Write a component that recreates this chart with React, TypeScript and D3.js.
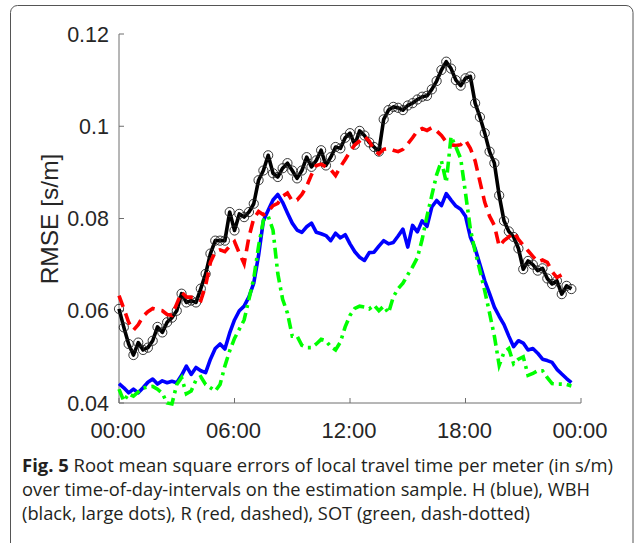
import React from "react";
import * as d3 from "d3";

// 15-minute time-of-day intervals (index -> hour = i * 0.25)
const xTickLabels = ["00:00", "06:00", "12:00", "18:00", "00:00"];
const xTickHours = [0, 6, 12, 18, 24];
const yTicks = [0.04, 0.06, 0.08, 0.1, 0.12];
const yTickLabels = ["0.04", "0.06", "0.08", "0.1", "0.12"];

// H (blue)
const seriesH = [
  0.0442, 0.0433, 0.0422, 0.0430, 0.0422, 0.0433, 0.0445, 0.0452, 0.0441, 0.0448,
  0.0444, 0.0447, 0.0444, 0.0460, 0.0480, 0.0462, 0.0477, 0.0470, 0.0466, 0.0495,
  0.0518, 0.0528, 0.0517, 0.0552, 0.0580, 0.0600, 0.0610, 0.0630, 0.0660, 0.0720,
  0.0795, 0.0818, 0.0840, 0.0852, 0.0835, 0.0812, 0.0790, 0.0775, 0.0770, 0.0782,
  0.0790, 0.0770, 0.0767, 0.0763, 0.0752, 0.0768, 0.0758, 0.0765, 0.0745, 0.0728,
  0.0716, 0.0709, 0.0726, 0.0727, 0.0740, 0.0752, 0.0745, 0.0748, 0.0762, 0.0777,
  0.0738, 0.0785, 0.0771, 0.0795, 0.0783, 0.0825, 0.0839, 0.0828, 0.0854, 0.0840,
  0.0827, 0.0820, 0.0805, 0.0760, 0.0735, 0.0700, 0.0665, 0.0637, 0.0608, 0.0588,
  0.0570, 0.0545, 0.0522, 0.0535, 0.0530, 0.0515, 0.0518, 0.0508, 0.0495, 0.0492,
  0.0488, 0.0473, 0.0463, 0.0453, 0.0444,
];

// WBH (black, large dots)
const seriesWBH = [
  0.0604, 0.0564, 0.0528, 0.0504, 0.0531, 0.0515, 0.0520, 0.0535, 0.0565, 0.0553,
  0.0575, 0.0585, 0.0600, 0.0637, 0.0618, 0.0622, 0.0618, 0.0648, 0.0680, 0.0724,
  0.0752, 0.0752, 0.0752, 0.0814, 0.0774, 0.0810, 0.0803, 0.0814, 0.0832, 0.0883,
  0.0904, 0.0937, 0.0898, 0.0890, 0.0909, 0.0920, 0.0904, 0.0887, 0.0904, 0.0933,
  0.0912, 0.0926, 0.0948, 0.0915, 0.0933, 0.0955, 0.0952, 0.0975, 0.0985, 0.0960,
  0.0990, 0.0980, 0.0965, 0.0955, 0.0945, 0.1015, 0.1035, 0.1042, 0.1040, 0.1035,
  0.1045, 0.1050, 0.1058, 0.1064, 0.1066, 0.1080, 0.1098, 0.1122, 0.1140, 0.1125,
  0.1100, 0.1088, 0.1104, 0.1108, 0.1050, 0.1020, 0.0985, 0.0945, 0.0920, 0.0850,
  0.0795, 0.0772, 0.0760, 0.0735, 0.0690, 0.0708, 0.0700, 0.0687, 0.0692, 0.0670,
  0.0658, 0.0665, 0.0636, 0.0654, 0.0647,
];

// R (red, dashed)
const seriesR = [
  0.0633, 0.0605, 0.0575, 0.0558, 0.0570, 0.0588, 0.0598, 0.0605, 0.0602, 0.0600,
  0.0592, 0.0590, 0.0615, 0.0640, 0.0630, 0.0629, 0.0628, 0.0622, 0.0655, 0.0705,
  0.0728, 0.0732, 0.0728, 0.0740, 0.0750, 0.0725, 0.0702, 0.0760, 0.0800, 0.0815,
  0.0808, 0.0815, 0.0828, 0.0833, 0.0848, 0.0855, 0.0838, 0.0840, 0.0852, 0.0870,
  0.0895, 0.0915, 0.0918, 0.0912, 0.0906, 0.0893, 0.0912, 0.0928, 0.0945, 0.0960,
  0.0968, 0.0978, 0.0968, 0.0948, 0.0940, 0.0950, 0.0952, 0.0948, 0.0945, 0.0950,
  0.0962, 0.0975, 0.0990, 0.0995, 0.0991, 0.0997, 0.0990, 0.0980, 0.0966, 0.0960,
  0.0958, 0.0960, 0.0970, 0.0952, 0.0925, 0.0880, 0.0835, 0.0805, 0.0785, 0.0740,
  0.0752, 0.0760, 0.0770, 0.0755, 0.0742, 0.0730, 0.0718, 0.0706, 0.0710, 0.0705,
  0.0685, 0.0672, 0.0678, 0.0687,
];

// SOT (green, dash-dotted)
const seriesSOT = [
  0.0430, 0.0404, 0.0420, 0.0415, 0.0424, 0.0432, 0.0435, 0.0436, 0.0430, 0.0421,
  0.0400, 0.0398, 0.0440, 0.0455, 0.0420, 0.0426, 0.0450, 0.0457, 0.0440, 0.0433,
  0.0426, 0.0440, 0.0480, 0.0513, 0.0540, 0.0560, 0.0580, 0.0625, 0.0670, 0.0740,
  0.0796, 0.0805, 0.0775, 0.0680, 0.0625, 0.0595, 0.0545, 0.0545, 0.0525, 0.0520,
  0.0520, 0.0528, 0.0538, 0.0535, 0.0522, 0.0515, 0.0532, 0.0565, 0.0590, 0.0605,
  0.0610, 0.0608, 0.0604, 0.0612, 0.0600, 0.0610, 0.0595, 0.0630, 0.0648, 0.0660,
  0.0678, 0.0695, 0.0715, 0.0755, 0.0805, 0.0850, 0.0895, 0.0925, 0.0878, 0.0978,
  0.0955, 0.0930, 0.0855, 0.0778, 0.0728, 0.0687, 0.0643, 0.0595, 0.0545, 0.0482,
  0.0510, 0.0518, 0.0485, 0.0495, 0.0500, 0.0460, 0.0464, 0.0470, 0.0470, 0.0455,
  0.0442, 0.0441, 0.0441, 0.0440, 0.0437,
];

const captionLine1 = "Root mean square errors of local travel time per meter (in s/m)";
const captionLine2 = "over time-of-day-intervals on the estimation sample. H (blue), WBH";
const captionLine3 = "(black, large dots), R (red, dashed), SOT (green, dash-dotted)";

const W = 635;
const H = 543;
const plot = { left: 119, right: 581, top: 34, bottom: 403 };

export default function App() {
  const x = d3.scaleLinear().domain([0, 24]).range([plot.left, plot.right]);
  const y = d3.scaleLinear().domain([0.04, 0.12]).range([plot.bottom, plot.top]);
  const toPts = (arr: number[]) => arr.map((v, i) => [i * 0.25, v] as [number, number]);
  const line = d3
    .line<[number, number]>()
    .x((d) => x(d[0]))
    .y((d) => y(d[1]));

  const axisColor = "#6e6e6e";
  const textColor = "#262626";
  const font = "'Liberation Sans', Arial, Helvetica, sans-serif";

  return (
    <svg
      width={W}
      height={H}
      style={{ position: "absolute", left: 0, top: 0, background: "#fff" }}
    >
      <rect x={10.5} y={5.5} width={622.5} height={545} rx={7} ry={7} fill="none" stroke="#555" strokeWidth={1} />

      {/* axes */}
      <line x1={plot.left} x2={plot.left} y1={plot.top} y2={plot.bottom} stroke={axisColor} strokeWidth={1} />
      <line x1={plot.left} x2={plot.right} y1={plot.bottom} y2={plot.bottom} stroke={axisColor} strokeWidth={1} />
      {yTicks.map((t, i) => (
        <g key={"yt" + i}>
          <line x1={plot.left} x2={plot.left + 5} y1={y(t)} y2={y(t)} stroke={axisColor} strokeWidth={1} />
          <text
            x={plot.left - 10}
            y={y(t)}
            dy="0.35em"
            textAnchor="end"
            fontFamily={font}
            fontSize={21.5}
            fill={textColor}
          >
            {yTickLabels[i]}
          </text>
        </g>
      ))}
      {xTickHours.map((h, i) => (
        <g key={"xt" + i}>
          <line x1={x(h)} x2={x(h)} y1={plot.bottom} y2={plot.bottom - 5} stroke={axisColor} strokeWidth={1} />
          <text
            x={x(h) - 1}
            y={438}
            textAnchor="middle"
            fontFamily={font}
            fontSize={22}
            fill={textColor}
          >
            {xTickLabels[i]}
          </text>
        </g>
      ))}
      <text
        transform={`translate(57.5, 219) rotate(-90)`}
        textAnchor="middle"
        fontFamily={font}
        fontSize={24.5}
        fill={textColor}
      >
        RMSE [s/m]
      </text>

      {/* series */}
      <path d={line(toPts(seriesH)) || ""} fill="none" stroke="#0000ff" strokeWidth={3.6} strokeLinejoin="round" />
      <path d={line(toPts(seriesWBH)) || ""} fill="none" stroke="#000" strokeWidth={3.6} strokeLinejoin="round" />
      {toPts(seriesWBH).map((d, i) => (
        <circle key={"m" + i} cx={x(d[0])} cy={y(d[1])} r={4.6} fill="none" stroke="#222" strokeWidth={0.9} />
      ))}
      <path
        d={line(toPts(seriesR)) || ""}
        fill="none"
        stroke="#ff0000"
        strokeWidth={3.6}
        strokeDasharray="12,7"
      />
      <path
        d={line(toPts(seriesSOT)) || ""}
        fill="none"
        stroke="#00ff00"
        strokeWidth={3.6}
        strokeDasharray="11,5,3,5"
      />

      {/* caption */}
      <g fontFamily="'Open Sans', 'Noto Sans', sans-serif" fontSize={17.5} fill="#231f20">
        <text x={22} y={472} textLength={591} lengthAdjust="spacingAndGlyphs">
          <tspan fontWeight="bold">Fig. 5</tspan>
          <tspan> {captionLine1}</tspan>
        </text>
        <text x={22} y={496} textLength={568} lengthAdjust="spacingAndGlyphs">{captionLine2}</text>
        <text x={22} y={520} textLength={508} lengthAdjust="spacingAndGlyphs">{captionLine3}</text>
      </g>
    </svg>
  );
}
